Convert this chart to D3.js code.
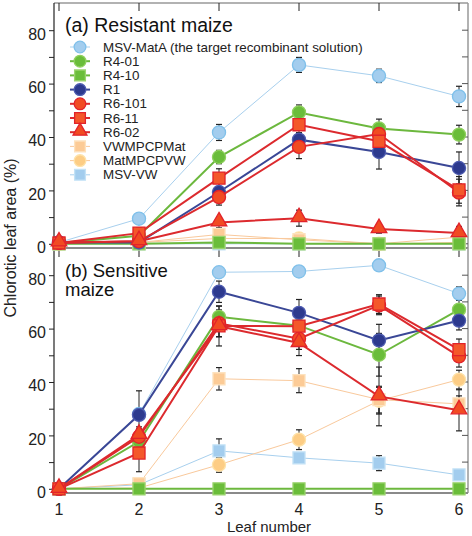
<!DOCTYPE html>
<html><head><meta charset="utf-8">
<script src="https://cdn.jsdelivr.net/npm/d3@7"></script>
<style>body{margin:0;background:#fff}svg{display:block;font-family:"Liberation Sans",Arial,sans-serif}</style>
</head><body><svg id="c" width="472" height="536"></svg>
<script>
const leaves = [1,2,3,4,5,6];
const seriesNames = ["MSV-MatA (the target recombinant solution)","R4-01","R4-10","R1","R6-101","R6-11","R6-02","VWMPCPMat","MatMPCPVW","MSV-VW"];
const shapes = ["circle","circle","square","circle","circle","square","triangle","square","circle","square"];
const fills = ["#a3cdee","#6abd3a","#6abd3a","#2d3a8e","#f14b22","#f4582a","#f14b22","#fccb96","#fdcd85","#a3cdee"];
const strokes = ["#7fc0ea","#8fd05e","#9bd46e","#4d5bb0","#e2222a","#e2222a","#e2222a","#fde2be","#fee2a8","#c3e2f6"];
const lineColors = ["#a8d0ee","#6cb83e","#6cb83e","#3a4796","#dc2a2e","#dc2a2e","#dc2a2e","#f9c99c","#f9c99c","#a8d0ee"];
const lineWidths = [1,2,2,2,2,2,2,1,1,1];
// Panel (a) resistant maize: means and error (+/-)
const resistant = [
  [0.5, 9.4, 41.7, 67.0, 62.9, 55.2],
  [0.3, 3.0, 32.5, 49.2, 43.2, 40.9],
  [0.0, 0.0, 0.5, 0.0, 0.0, 0.0],
  [0.5, 0.5, 19.4, 39.0, 34.4, 28.4],
  [0.3, 1.0, 17.5, 36.3, 41.1, 19.2],
  [0.3, 4.0, 24.6, 44.6, 38.4, 20.2],
  [0.5, 1.0, 8.0, 9.6, 5.5, 4.0],
  [0.0, 0.5, 3.5, 1.5, 0.0, 0.5],
  [0.0, 0.5, 2.0, 2.0, 0.0, 2.5],
  [0.0, 0.0, 0.0, 0.0, 0.0, 0.0]
];
const resistantErr = [
  [0.3, 0.5, 3.0, 2.8, 2.5, 3.8],
  [0.3, 1.0, 2.5, 2.8, 3.5, 3.5],
  [0, 0, 0.3, 0, 0, 0],
  [0.3, 0.5, 3.5, 2.5, 6.4, 6.0],
  [0.3, 0.5, 3.0, 4.4, 3.0, 5.0],
  [0.3, 2.0, 3.5, 3.0, 3.5, 5.0],
  [0.3, 0.5, 2.0, 3.0, 1.5, 2.5],
  [0, 0.3, 1.0, 0.8, 0.3, 0.5],
  [0, 0.3, 0.8, 0.8, 0.3, 0.8],
  [0, 0, 0, 0, 0, 0]
];
// Panel (b) sensitive maize
const sensitive = [
  [0.0, 28.0, 81.1, 81.4, 83.7, 73.1],
  [0.0, 17.7, 64.4, 61.1, 50.2, 67.1],
  [0.0, 0.0, 0.0, 0.0, 0.0, 0.0],
  [0.0, 27.7, 73.8, 65.9, 55.6, 63.0],
  [0.0, 19.5, 62.0, 56.2, 68.7, 49.6],
  [0.0, 13.4, 61.0, 60.9, 69.2, 52.1],
  [0.0, 20.2, 60.9, 54.6, 34.6, 29.4],
  [0.0, 1.9, 41.2, 40.5, 33.4, 31.8],
  [0.0, 0.3, 9.0, 18.4, 33.0, 40.9],
  [0.0, 1.5, 14.2, 11.6, 9.6, 5.2]
];
const sensitiveErr = [
  [0, 1.0, 1.0, 1.0, 1.0, 2.5],
  [0, 2.5, 4.0, 3.0, 8.0, 3.5],
  [0, 0, 0, 0, 0, 0],
  [0, 9.0, 4.0, 5.0, 6.0, 3.5],
  [0, 3.0, 5.0, 4.0, 3.5, 4.0],
  [0, 7.0, 7.5, 3.0, 3.5, 4.0],
  [0, 3.0, 4.0, 4.7, 11.0, 7.7],
  [0, 0.5, 4.2, 4.5, 5.0, 3.0],
  [0, 0.3, 2.8, 3.7, 5.0, 3.5],
  [0, 0.5, 4.5, 1.5, 2.8, 1.5]
];
const yTicks = [0,20,40,60,80];

const svg = d3.select("#c");
const L = 54, R = 468;
const x = d3.scaleLinear().domain([0.9375, 6.1125]).range([L, R]);
const panels = [
  {data: resistant, err: resistantErr, top: 3, bottom: 248, title: ["(a) Resistant maize"]},
  {data: sensitive, err: sensitiveErr, top: 248, bottom: 493, title: ["(b) Sensitive","maize"]}
];
panels.forEach((p, pi) => {
  const zeroY = p.bottom - 4.2;
  const y = d3.scaleLinear().domain([0, 80]).range([zeroY, zeroY - 213.6]);
  p.y = y;
  const g = svg.append("g");
  g.append("line").attr("x1", L).attr("x2", R).attr("y1", p.top).attr("y2", p.top).attr("stroke", pi===0?"#999":"none").attr("stroke-width",1.5);
  g.append("line").attr("x1", R).attr("x2", R).attr("y1", p.top).attr("y2", p.bottom).attr("stroke", "#999").attr("stroke-width",1.5);
  d3.range(0, 90, 10).forEach(v => {
    g.append("line").attr("x1", R).attr("x2", R-6).attr("y1", y(v)).attr("y2", y(v)).attr("stroke", "#555").attr("stroke-width",1);
  });
  const ax = d3.axisLeft(y).tickValues(d3.range(0, 90, 10)).tickSize(5).tickFormat(v => yTicks.includes(v) ? v : "");
  const axg = g.append("g").attr("transform", `translate(${L},0)`).call(ax);
  axg.select(".domain").remove();
  axg.selectAll(".tick line").attr("stroke","#222");
  axg.selectAll(".tick text").attr("font-size", 16).attr("fill","#222").attr("font-family","Liberation Sans, Arial, sans-serif").attr("dy","0.55em").attr("x",-8);
  g.append("line").attr("x1", L).attr("x2", L).attr("y1", p.top).attr("y2", p.bottom).attr("stroke", "#222").attr("stroke-width",1.2);
  if (pi === 0) {
    leaves.forEach(l => g.append("line").attr("x1", x(l)).attr("x2", x(l)).attr("y1", p.top).attr("y2", p.top+8).attr("stroke","#222"));
    leaves.forEach(l => g.append("line").attr("x1", x(l)).attr("x2", x(l)).attr("y1", p.bottom).attr("y2", p.bottom+9).attr("stroke","#222"));
  }
  g.append("line").attr("x1", L).attr("x2", R).attr("y1", p.bottom).attr("y2", p.bottom).attr("stroke", "#8a8a8a").attr("stroke-width",2);
  p.title.forEach((t, i) => g.append("text").attr("x", 65).attr("y", p.top + 29 + i*19).attr("font-size", pi===0?19.5:18.5).attr("fill","#111").text(t));
});

const sym = {circle: d3.symbolCircle, square: d3.symbolSquare, triangle: d3.symbolTriangle};
const symSize = {circle: 135, square: 145, triangle: 105};
function marker(g, i, cx, cy, scale) {
  const s = shapes[i];
  g.append("path").attr("d", d3.symbol().type(sym[s]).size(symSize[s] * (scale || 1))())
    .attr("transform", `translate(${cx},${cy + (s==="triangle"? -1:0)})`)
    .attr("fill", fills[i]).attr("stroke", strokes[i]).attr("stroke-width", 1.3);
}
const order = [9,8,7,0,2,1,3,4,5,6];
panels.forEach((p) => {
  const g = svg.append("g");
  const y = p.y;
  order.forEach(i => {
    p.data[i].forEach((v, k) => {
      const e = p.err[i][k];
      if (e < 0.8) return;
      const cx = x(leaves[k]);
      g.append("line").attr("x1",cx).attr("x2",cx).attr("y1",y(v-e)).attr("y2",y(v+e)).attr("stroke","#222").attr("stroke-width",1);
      [v-e, v+e].forEach(t => g.append("line").attr("x1",cx-3).attr("x2",cx+3).attr("y1",y(t)).attr("y2",y(t)).attr("stroke","#222").attr("stroke-width",1.2));
    });
  });
  order.forEach(i => {
    const line = d3.line().x((d,k) => x(leaves[k])).y(d => y(d));
    g.append("path").attr("d", line(p.data[i])).attr("fill","none").attr("stroke", lineColors[i]).attr("stroke-width", lineWidths[i]);
    p.data[i].forEach((v,k) => marker(g, i, x(leaves[k]), y(v)));
  });
});

const lg = svg.append("g");
seriesNames.forEach((n, i) => {
  const yy = 47 + i*14.2;
  lg.append("line").attr("x1", 70).attr("x2", 90).attr("y1", yy).attr("y2", yy).attr("stroke", lineColors[i]).attr("stroke-width", lineWidths[i]);
  marker(lg, i, 80, yy, 0.8);
  lg.append("text").attr("x", 103).attr("y", yy + 4.5).attr("font-size", 13.4).attr("fill","#222").text(n);
});

const xg = svg.append("g");
leaves.forEach(l => xg.append("text").attr("x", x(l)).attr("y", 515).attr("text-anchor","middle").attr("font-size",16).attr("fill","#222").text(l));
xg.append("text").attr("x", 269).attr("y", 532).attr("text-anchor","middle").attr("font-size",15).attr("fill","#222").text("Leaf number");
svg.append("text").attr("transform","translate(16,238) rotate(-90)").attr("text-anchor","middle").attr("font-size",16).attr("fill","#222").text("Chlorotic leaf area (%)");
</script></body></html>
